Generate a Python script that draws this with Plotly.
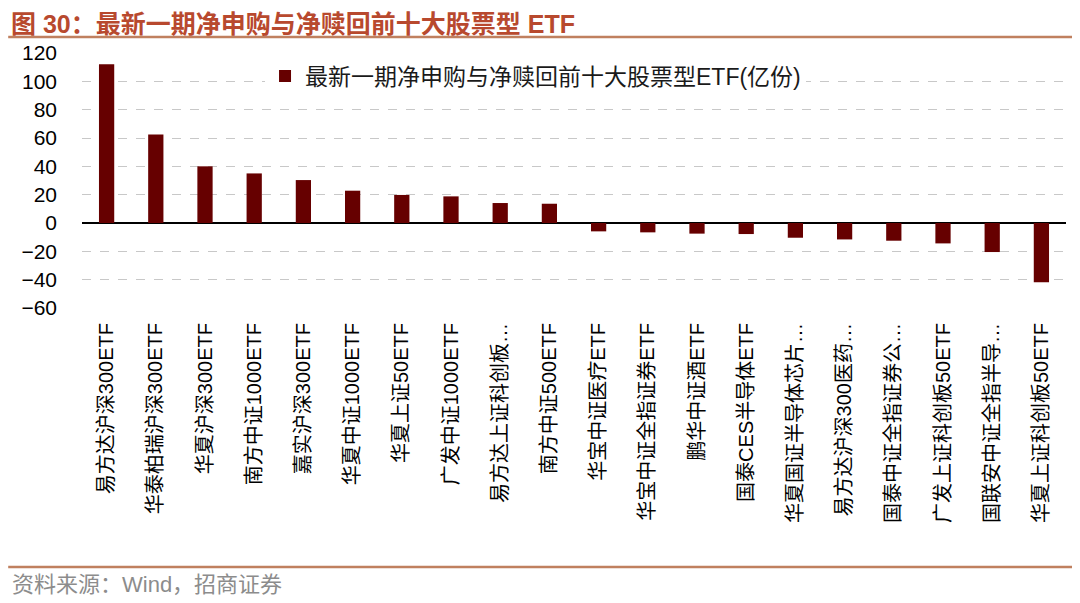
import plotly.graph_objects as go

categories = [
    "易方达沪深300ETF", "华泰柏瑞沪深300ETF", "华夏沪深300ETF", "南方中证1000ETF",
    "嘉实沪深300ETF", "华夏中证1000ETF", "华夏上证50ETF", "广发中证1000ETF",
    "易方达上证科创板…", "南方中证500ETF", "华宝中证医疗ETF", "华宝中证全指证券ETF",
    "鹏华中证酒ETF", "国泰CES半导体ETF", "华夏国证半导体芯片…", "易方达沪深300医药…",
    "国泰中证全指证券公…", "广发上证科创板50ETF", "国联安中证全指半导…", "华夏上证科创板50ETF",
]
net_flow = [112.0, 62.5, 40.0, 35.0, 30.3, 22.8, 19.8, 18.8, 14.1, 13.6,
            -5.9, -6.6, -7.5, -7.8, -10.4, -11.6, -12.5, -14.4, -20.5, -41.9]
y_ticks = [-60, -40, -20, 0, 20, 40, 60, 80, 100, 120]

series_name = "最新一期净申购与净赎回前十大股票型ETF(亿份)"
title_text = "图 30：最新一期净申购与净赎回前十大股票型 ETF"
source_text = "资料来源：Wind，招商证券"

FONT = "Liberation Sans, Arial, Noto Sans CJK SC, sans-serif"

fig = go.Figure()
fig.add_trace(go.Bar(
    x=categories, y=net_flow, name=series_name,
    marker=dict(color="#660000", line=dict(width=0)),
    showlegend=True,
))

fig.update_layout(
    width=1080, height=603,
    margin=dict(l=74, r=22, t=45, b=303),
    paper_bgcolor="white", plot_bgcolor="white",
    font=dict(family=FONT, color="#000000"),
    bargap=0.69,
    showlegend=True,
    legend=dict(
        x=0.186, y=0.91, xanchor="left", yanchor="middle",
        bgcolor="white", borderwidth=0,
        font=dict(family=FONT, size=23, color="#1a1a1a"),
        itemwidth=30,
    ),
    xaxis=dict(
        type="category",
        tickangle=-90,
        tickfont=dict(family=FONT, size=20, color="#000000"),
        showgrid=False, showline=False, zeroline=False,
        ticks="", ticklabelstandoff=10,
    ),
    yaxis=dict(
        range=[-60, 120],
        tickvals=y_ticks,
        tickfont=dict(family=FONT, size=21, color="#000000"),
        showgrid=True, gridcolor="#c8c8c8", griddash="dash", gridwidth=1,
        zeroline=True, zerolinecolor="#000000", zerolinewidth=1.5,
        showline=False, ticks="", ticklabelstandoff=24,
    ),
    annotations=[
        dict(text="<b>" + title_text + "</b>", xref="paper", yref="paper",
             x=-0.073, y=1.112, xanchor="left", yanchor="middle", showarrow=False,
             borderpad=0,
             font=dict(family=FONT, size=25, color="#B8492E")),
        dict(text=source_text, xref="paper", yref="paper",
             x=-0.073, y=-1.086, xanchor="left", yanchor="middle", showarrow=False,
             font=dict(family=FONT, size=22, color="#8c8c8c")),
    ],
    shapes=[
        dict(type="line", xref="paper", yref="paper", x0=-0.075, x1=1.009,
             y0=1.0627, y1=1.0627, line=dict(color="#C0805F", width=2.5)),
        dict(type="line", xref="paper", yref="paper", x0=-0.075, x1=1.009,
             y0=-1.0157, y1=-1.0157, line=dict(color="#C0805F", width=2.5)),
    ],
)

fig.write_html("out.html")
